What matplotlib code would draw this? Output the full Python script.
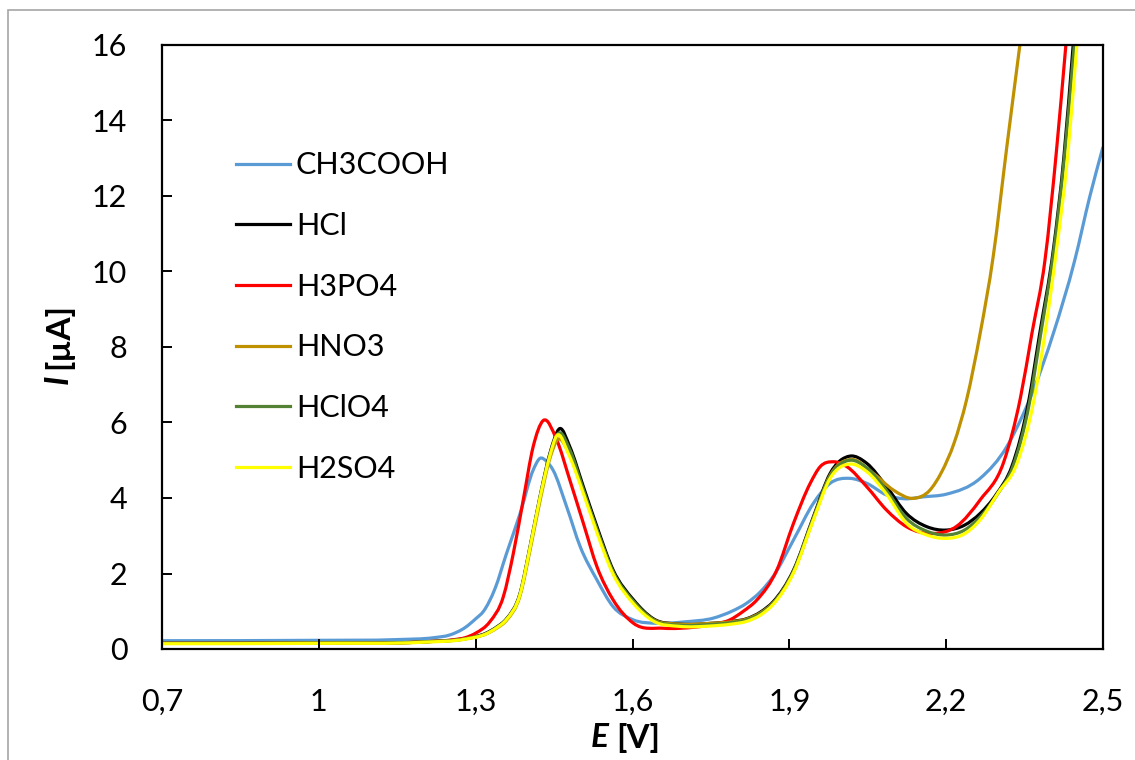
import numpy as np
import matplotlib
matplotlib.use('Agg')
import matplotlib.pyplot as plt
from matplotlib.path import Path
from matplotlib.patches import PathPatch, Rectangle
from matplotlib.lines import Line2D

plt.rcParams['font.family'] = ['Lato', 'DejaVu Sans']

# Differential pulse voltammograms in different supporting electrolytes
ch3cooh_E = [0.70, 1.00, 1.15, 1.22, 1.25, 1.28, 1.30, 1.315, 1.337, 1.359, 1.385, 1.41, 1.423,
             1.435, 1.448, 1.474, 1.50, 1.532, 1.563, 1.60, 1.65, 1.70, 1.755, 1.79, 1.818,
             1.845, 1.869, 1.908, 1.946, 1.978, 2.016, 2.048, 2.086, 2.12, 2.156, 2.20, 2.265,
             2.316, 2.348, 2.367, 2.405, 2.446, 2.475, 2.50]
ch3cooh_I = [0.22, 0.23, 0.25, 0.30, 0.37, 0.57, 0.80, 1.00, 1.60, 2.53, 3.59, 4.74, 5.05,
             4.98, 4.74, 3.77, 2.71, 1.83, 1.12, 0.78, 0.68, 0.72, 0.82, 1.00, 1.21,
             1.52, 1.92, 2.89, 3.86, 4.39, 4.52, 4.39, 4.08, 3.98, 4.03, 4.10, 4.52,
             5.36, 6.24, 6.86, 8.36, 10.30, 12.00, 13.30]

hcl_E = [0.70, 1.00, 1.20, 1.28, 1.32, 1.34, 1.359, 1.385, 1.404, 1.423, 1.442, 1.461, 1.48,
         1.506, 1.532, 1.563, 1.602, 1.64, 1.69, 1.75, 1.79, 1.818, 1.845, 1.869, 1.908,
         1.946, 1.978, 2.016, 2.048, 2.086, 2.124, 2.163, 2.20, 2.235, 2.265, 2.296, 2.326,
         2.357, 2.379, 2.405, 2.425, 2.443]
hcl_I = [0.15, 0.16, 0.19, 0.28, 0.42, 0.58, 0.80, 1.48, 2.71, 4.03, 5.18, 5.84, 5.36,
         4.30, 3.24, 2.09, 1.30, 0.80, 0.66, 0.68, 0.73, 0.80, 0.98, 1.25, 2.09,
         3.50, 4.65, 5.11, 4.92, 4.30, 3.59, 3.24, 3.15, 3.28, 3.59, 4.10, 4.85,
         6.50, 8.36, 10.57, 13.00, 16.00]

h3po4_E = [0.70, 1.00, 1.20, 1.26, 1.28, 1.30, 1.327, 1.353, 1.372, 1.391, 1.41, 1.429, 1.455,
           1.48, 1.506, 1.532, 1.563, 1.602, 1.659, 1.72, 1.755, 1.786, 1.812, 1.838, 1.876,
           1.908, 1.94, 1.959, 1.984, 2.01, 2.048, 2.086, 2.124, 2.175, 2.22, 2.265, 2.31,
           2.342, 2.364, 2.389, 2.411, 2.429]
h3po4_I = [0.15, 0.16, 0.19, 0.25, 0.30, 0.42, 0.72, 1.39, 2.53, 3.95, 5.36, 6.05, 5.54,
           4.48, 3.33, 2.18, 1.30, 0.68, 0.55, 0.58, 0.65, 0.77, 1.00, 1.30, 2.09,
           3.33, 4.39, 4.83, 4.96, 4.83, 4.30, 3.68, 3.24, 3.06, 3.25, 3.95, 4.95,
           6.65, 8.36, 10.30, 13.20, 16.00]

hno3_E = [0.70, 1.00, 1.20, 1.28, 1.32, 1.34, 1.359, 1.385, 1.404, 1.423, 1.442, 1.457, 1.478,
          1.506, 1.532, 1.563, 1.602, 1.64, 1.69, 1.75, 1.79, 1.818, 1.845, 1.869, 1.908,
          1.946, 1.978, 2.019, 2.061, 2.099, 2.137, 2.169, 2.191, 2.215, 2.239, 2.265, 2.29,
          2.316, 2.341]
hno3_I = [0.15, 0.16, 0.19, 0.27, 0.40, 0.55, 0.76, 1.42, 2.62, 3.92, 5.05, 5.55, 5.20,
          4.18, 3.15, 2.02, 1.25, 0.78, 0.66, 0.68, 0.72, 0.79, 0.96, 1.22, 2.05,
          3.45, 4.60, 5.02, 4.65, 4.21, 3.99, 4.21, 4.68, 5.45, 6.60, 8.36, 10.40,
          13.30, 16.00]

hclo4_E = [0.70, 1.00, 1.20, 1.28, 1.32, 1.34, 1.359, 1.385, 1.404, 1.423, 1.442, 1.459, 1.48,
           1.506, 1.532, 1.563, 1.602, 1.64, 1.69, 1.75, 1.79, 1.818, 1.845, 1.869, 1.908,
           1.946, 1.978, 2.016, 2.048, 2.086, 2.124, 2.163, 2.20, 2.235, 2.265, 2.298, 2.328,
           2.359, 2.381, 2.406, 2.426, 2.445]
hclo4_I = [0.15, 0.16, 0.19, 0.27, 0.41, 0.57, 0.79, 1.46, 2.69, 4.01, 5.15, 5.72, 5.28,
           4.22, 3.16, 2.04, 1.26, 0.77, 0.63, 0.65, 0.70, 0.77, 0.94, 1.21, 2.05,
           3.46, 4.58, 5.00, 4.80, 4.20, 3.46, 3.12, 3.02, 3.15, 3.50, 4.10, 4.85,
           6.50, 8.36, 10.57, 13.00, 16.00]

h2so4_E = [0.70, 1.00, 1.20, 1.28, 1.32, 1.34, 1.359, 1.385, 1.404, 1.423, 1.442, 1.455, 1.478,
           1.506, 1.532, 1.563, 1.602, 1.64, 1.69, 1.75, 1.79, 1.818, 1.845, 1.869, 1.908,
           1.946, 1.978, 2.016, 2.048, 2.086, 2.124, 2.163, 2.20, 2.235, 2.265, 2.30, 2.335,
           2.368, 2.389, 2.411, 2.432, 2.45]
h2so4_I = [0.14, 0.15, 0.18, 0.26, 0.40, 0.56, 0.78, 1.45, 2.68, 4.00, 5.12, 5.65, 5.15,
           4.12, 3.08, 1.98, 1.20, 0.74, 0.60, 0.61, 0.66, 0.73, 0.90, 1.18, 2.02,
           3.42, 4.52, 4.90, 4.70, 4.10, 3.33, 3.02, 2.93, 3.05, 3.42, 4.15, 4.90,
           6.60, 8.36, 10.57, 13.00, 16.00]

labels = ['CH3COOH', 'HCl', 'H3PO4', 'HNO3', 'HClO4', 'H2SO4']
colors = ['#5B9BD5', '#000000', '#FF0000', '#BF9000', '#548235', '#FFFF00']
series = [(ch3cooh_E, ch3cooh_I), (hcl_E, hcl_I), (h3po4_E, h3po4_I),
          (hno3_E, hno3_I), (hclo4_E, hclo4_I), (h2so4_E, h2so4_I)]

x_ticks = [0.7, 1.0, 1.3, 1.6, 1.9, 2.2, 2.5]
x_ticklabels = ['0,7', '1', '1,3', '1,6', '1,9', '2,2', '2,5']
y_ticks = [0, 2, 4, 6, 8, 10, 12, 14, 16]


def smooth_path(xs, ys):
    """Cubic Bezier path through the points (smoothed line, 3-point tangents)"""
    x = np.asarray(xs, float)
    y = np.asarray(ys, float)
    h = np.diff(x)
    d = np.diff(y) / h
    m = np.empty_like(x)
    m[0], m[-1] = d[0], d[-1]
    m[1:-1] = (h[:-1] * d[1:] + h[1:] * d[:-1]) / (h[:-1] + h[1:])
    verts = [(x[0], y[0])]
    codes = [Path.MOVETO]
    for i in range(len(x) - 1):
        verts += [(x[i] + h[i] / 3, y[i] + m[i] * h[i] / 3),
                  (x[i + 1] - h[i] / 3, y[i + 1] - m[i + 1] * h[i] / 3),
                  (x[i + 1], y[i + 1])]
        codes += [Path.CURVE4] * 3
    return Path(verts, codes)


fig = plt.figure(figsize=(11.35, 7.6), dpi=100)
ax = fig.add_axes([162 / 1135, 111 / 760, 941 / 1135, 604 / 760])

lw = 2.3
for (E, I), c in zip(series, colors):
    ax.add_patch(PathPatch(smooth_path(E, I), facecolor='none', edgecolor=c,
                           lw=lw, capstyle='butt', joinstyle='round'))

ax.set_xlim(0.7, 2.5)
ax.set_ylim(0, 16)
ax.set_xticks(x_ticks)
ax.set_xticklabels(x_ticklabels)
ax.set_yticks(y_ticks)

for sp in ax.spines.values():
    sp.set_linewidth(1.6)
ax.tick_params(direction='in', length=7.5, width=1.4, labelsize=22)
ax.tick_params(axis='y', pad=25)
ax.tick_params(axis='x', pad=28)

# axis titles: italic symbol followed by the unit
fig.text(609 / 1135, 0.029, 'E', fontsize=24, fontweight='bold', style='italic',
         ha='right', va='center')
fig.text(616 / 1135, 0.029, '[V]', fontsize=24, fontweight='bold', ha='left', va='center')
fig.text(0.051, 0.507, 'I', fontsize=24, fontweight='bold', style='italic',
         ha='center', va='top', rotation=90)
fig.text(0.051, 0.514, '[µA]', fontsize=24, fontweight='bold',
         ha='center', va='bottom', rotation=90)

handles = [Line2D([], [], color=c, lw=lw) for c in colors]
ax.legend(handles, labels, loc='upper left', bbox_to_anchor=(224 / 1135, 1 - 139 / 760),
          bbox_transform=fig.transFigure, frameon=False, fontsize=22,
          handlelength=1.75, handletextpad=0.2, labelspacing=1.07, borderaxespad=0)

# light outer frame
fig.patches.append(Rectangle((8 / 1135, -0.1), 1.2, 1.1 - 10 / 760, transform=fig.transFigure,
                             fill=False, edgecolor='#A6A6A6', lw=1.2))

fig.savefig('out.png', dpi=100)
